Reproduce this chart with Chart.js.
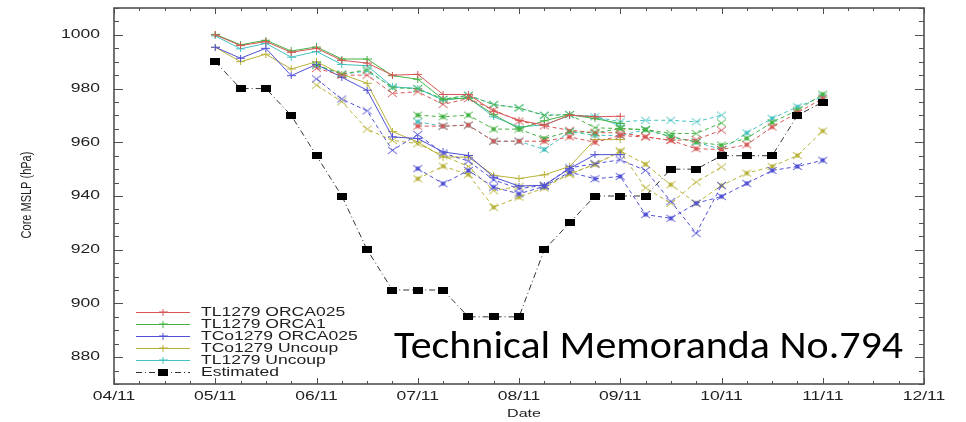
<!DOCTYPE html>
<html>
<head>
<meta charset="utf-8">
<script src="https://cdn.jsdelivr.net/npm/chart.js@4"></script>
<style>
  body { margin: 0; background: #fff; }
  canvas { display: block; }
</style>
</head>
<body>
<canvas id="mslp" width="966" height="422"></canvas>
<script>
// x axis is day of November, y axis core pressure in hPa
const dayTicks = [4, 5, 6, 7, 8, 9, 10, 11, 12];
const dayLabels = ['04/11', '05/11', '06/11', '07/11', '08/11', '09/11', '10/11', '11/11', '12/11'];
const pressureTicks = [880, 900, 920, 940, 960, 980, 1000];

// forecast runs start 00Z on 05, 06 and 07 Nov, output every 6 h
const runStarts = [5, 6, 7];
const stepDays = 0.25;

const tl1279Orca025 = [
  [1000, 996, 997.5, 993.5, 995, 990.5, 989.5, 985, 985.3, 977.8, 977.8, 971.6, 968.2, 966.4, 970.1, 969.5, 969.7],
  [987.5, 985, 985, 978.2, 978.8, 974.1, 976.3, 972, 967.9, 966.1, 964.5, 963.6, 963.5, 962.1, 960.7, 961, 964.5],
  [966, 966, 966.4, 960.4, 960.4, 960.4, 962, 960, 962.5, 962, 960.7, 957.6, 957.3, 959.1, 965.7, 971, 976.3]
];
const tl1279Orca1 = [
  [1000.2, 996.3, 998, 994, 995.5, 991, 991, 984.8, 983.5, 976, 976.5, 970.3, 965, 968, 970.3, 968.8, 967],
  [988.8, 985.4, 987, 980.3, 980, 976, 977.5, 974, 972.8, 970, 970.3, 965.4, 965.1, 964.7, 963.3, 963.3, 967.2],
  [970.1, 969.5, 970.1, 964.9, 964.9, 961.4, 964, 963.5, 965.1, 964.7, 962.1, 960.1, 958.9, 961.5, 967.4, 972, 977.9]
];
const tco1279Orca025 = [
  [995.4, 991.3, 995, 984.8, 989, 984.2, 979.4, 962, 961.4, 956.4, 955.1, 947, 943.7, 944, 950.2, 955.4, 955.4],
  [983.6, 976.1, 971.7, 957, 962.9, 956, 953, 946, 942.7, 944, 950.5, 952, 953.5, 949.5, 938, 926.1, 943.9],
  [950.2, 944.6, 949.5, 943.3, 940.8, 943.6, 948.9, 946.4, 947.3, 933.1, 931.7, 937.3, 939.8, 944.7, 949.5, 951, 953.3]
];
const tco1279Uncoup = [
  [995.4, 990, 992.8, 987.3, 990, 985.3, 982, 964, 960.1, 954.5, 954.5, 947.7, 946.5, 947.9, 951, 961, 961],
  [981.3, 975.1, 964.9, 960.7, 959.5, 955, 951, 942, 943.6, 944, 948, 952, 956.4, 943, 937.3, 945.2, 950.8],
  [946.4, 951.1, 948, 935.8, 939.6, 943, 948.3, 951.7, 956.8, 951.8, 944.2, 937.3, 943.9, 948.5, 951, 955.1, 964.2]
];
const tl1279Uncoup = [
  [999.6, 994.8, 996.8, 991.7, 993.8, 989, 988.5, 980.7, 980, 975.7, 976.6, 969.5, 965.7, 966.5, 970, 969.7, 966.1],
  [988.5, 985.4, 986.5, 980.5, 980, 976, 977.5, 974.1, 972.8, 970.1, 970.3, 969.5, 967.6, 968.2, 968.2, 967.6, 970.1],
  [967.6, 966, 966.4, 960.4, 960.4, 957.3, 963.9, 962.6, 962.5, 964.7, 962.1, 960.1, 957.3, 963.5, 968.9, 973.2, 977]
];

// best-track estimate, 6-hourly from 05 Nov 00Z
const estimatedStart = 5;
const estimated = [990, 980, 980, 970, 955, 940, 920, 905, 905, 905, 895, 895, 895,
  920, 930, 940, 940, 940, 950, 950, 955, 955, 955, 970, 975];

const modelNames = ['TL1279 ORCA025', 'TL1279 ORCA1', 'TCo1279 ORCA025', 'TCo1279 Uncoup', 'TL1279 Uncoup'];
const modelColors = ['rgb(214,86,86)', 'rgb(70,178,70)', 'rgb(80,80,214)', 'rgb(184,178,56)', 'rgb(70,192,192)'];
const modelRuns = [tl1279Orca025, tl1279Orca1, tco1279Orca025, tco1279Uncoup, tl1279Uncoup];

const textStretch = 1.46;
const axisFont = '12px "Liberation Sans", Arial, sans-serif';

// small canvas markers, a little wider than tall like the old plot
function markCanvas(w, h, draw) {
  const c = document.createElement('canvas');
  c.width = w; c.height = h;
  draw(c.getContext('2d'), w, h);
  return c;
}
function plusMark(color) {
  return markCanvas(9, 7, (g, w, h) => {
    g.strokeStyle = color; g.lineWidth = 1;
    g.beginPath();
    g.moveTo(0, 3.5); g.lineTo(w, 3.5);
    g.moveTo(4.5, 0); g.lineTo(4.5, h);
    g.stroke();
  });
}
function xMark(color, boxed) {
  return markCanvas(11, 9, (g, w, h) => {
    g.strokeStyle = color; g.lineWidth = 1;
    g.beginPath();
    g.moveTo(1, 1); g.lineTo(w - 1, h - 1);
    g.moveTo(w - 1, 1); g.lineTo(1, h - 1);
    g.stroke();
    if (boxed) {
      g.fillStyle = color;
      g.fillRect(3.5, 2.5, 4, 4);
    }
  });
}
const squareMark = markCanvas(10, 7, g => { g.fillStyle = '#000'; g.fillRect(0, 0, 10, 7); });

function toPoints(start, values) {
  return values.map((v, k) => ({ x: start + k * stepDays, y: v }));
}

const datasets = [];
datasets.push({
  label: 'Estimated',
  data: toPoints(estimatedStart, estimated),
  borderColor: '#333',
  borderWidth: 1,
  borderDash: [6, 3, 1, 3],
  pointStyle: squareMark,
  pointRadius: 5,
  order: 0
});
modelRuns.forEach((runs, m) => {
  const color = modelColors[m];
  runs.forEach((values, r) => {
    datasets.push({
      label: modelNames[m],
      data: toPoints(runStarts[r], values),
      borderColor: color,
      borderWidth: 1,
      borderDash: r === 0 ? [] : [4, 3],
      pointStyle: r === 0 ? plusMark(color) : xMark(color, r === 2),
      pointRadius: 4,
      order: 1 + m
    });
  });
});

function stretchedText(ctx, text, x, y, align) {
  ctx.save();
  ctx.translate(x, y);
  ctx.scale(textStretch, 1);
  ctx.textAlign = align;
  ctx.fillText(text, 0, 0);
  ctx.restore();
}

// gnuplot style frame: inward ticks on all four sides, labels, legend and note
const framePlugin = {
  id: 'frame',
  afterDatasetsDraw(chart) {
    const { ctx, chartArea: a, scales } = chart;
    const xs = scales.x, ys = scales.y;
    ctx.save();
    ctx.strokeStyle = '#505050';
    ctx.lineWidth = 1;
    ctx.beginPath();
    for (let d = 4; d <= 12; d += stepDays) {
      const px = Math.round(xs.getPixelForValue(d)) + 0.5;
      const len = Number.isInteger(d) ? 6 : 3;
      ctx.moveTo(px, a.bottom); ctx.lineTo(px, a.bottom - len);
      ctx.moveTo(px, a.top); ctx.lineTo(px, a.top + len);
    }
    for (let p = 870; p <= 1010; p += 5) {
      const py = Math.round(ys.getPixelForValue(p)) + 0.5;
      const len = pressureTicks.includes(p) ? 9 : 5;
      ctx.moveTo(a.left, py); ctx.lineTo(a.left + len, py);
      ctx.moveTo(a.right, py); ctx.lineTo(a.right - len, py);
    }
    ctx.stroke();
    ctx.lineWidth = 1.6;
    ctx.strokeRect(a.left, a.top, a.right - a.left, a.bottom - a.top);

    ctx.fillStyle = '#222';
    ctx.font = axisFont;
    ctx.textBaseline = 'middle';
    dayTicks.forEach((d, i) => stretchedText(ctx, dayLabels[i], xs.getPixelForValue(d), 397, 'center'));
    pressureTicks.forEach(p => stretchedText(ctx, String(p), 100, ys.getPixelForValue(p), 'right'));
    ctx.font = '11px "Liberation Sans", Arial, sans-serif';
    stretchedText(ctx, 'Date', (a.left + a.right) / 2 + 5, 414, 'center');

    ctx.save();
    ctx.translate(27, 195);
    ctx.rotate(-Math.PI / 2);
    ctx.scale(1, 1.25);
    ctx.textAlign = 'center';
    ctx.font = '11px "Liberation Sans", Arial, sans-serif';
    ctx.fillText('Core MSLP (hPa)', 0, 0);
    ctx.restore();
    ctx.restore();
  },
  afterDraw(chart) {
    const { ctx } = chart;
    ctx.save();
    // legend block, lower left inside the frame
    const rows = modelNames.map((n, m) => ({ label: n, color: modelColors[m], mark: plusMark(modelColors[m]), dash: [] }));
    rows.push({ label: 'Estimated', color: '#333', mark: squareMark, dash: [6, 3, 1, 3] });
    ctx.font = '12px "Liberation Sans", Arial, sans-serif';
    ctx.textBaseline = 'middle';
    rows.forEach((r, i) => {
      const y = 312 + i * 12;
      ctx.strokeStyle = r.color;
      ctx.lineWidth = 1;
      ctx.setLineDash(r.dash);
      ctx.beginPath();
      ctx.moveTo(136, y + 0.5); ctx.lineTo(190, y + 0.5);
      ctx.stroke();
      ctx.setLineDash([]);
      ctx.drawImage(r.mark, 163 - r.mark.width / 2, y - r.mark.height / 2);
      ctx.fillStyle = '#222';
      stretchedText(ctx, r.label, 201, y + 1, 'left');
    });

    // report reference across the lower right
    const note = 'Technical Memoranda No.794';
    ctx.font = '38px Carlito, "Open Sans", sans-serif';
    const w = ctx.measureText(note).width;
    ctx.fillStyle = '#000';
    ctx.textBaseline = 'alphabetic';
    ctx.translate(394, 358);
    ctx.scale(509 / w, 1);
    ctx.textAlign = 'left';
    ctx.fillText(note, 0, 0);
    ctx.restore();
  }
};

new Chart(document.getElementById('mslp'), {
  type: 'line',
  data: { datasets },
  options: {
    responsive: false,
    animation: false,
    devicePixelRatio: 1,
    layout: { padding: { left: 0, right: 42, top: 8, bottom: 0 } },
    elements: { line: { tension: 0, fill: false } },
    plugins: { legend: { display: false }, tooltip: { enabled: false } },
    scales: {
      x: {
        type: 'linear',
        min: 4,
        max: 12,
        grid: { display: false },
        border: { display: false },
        ticks: { display: false },
        afterFit: s => { s.height = 38; }
      },
      y: {
        min: 870,
        max: 1010,
        grid: { display: false },
        border: { display: false },
        ticks: { display: false },
        afterFit: s => { s.width = 114; }
      }
    }
  },
  plugins: [framePlugin]
});
</script>
</body>
</html>
